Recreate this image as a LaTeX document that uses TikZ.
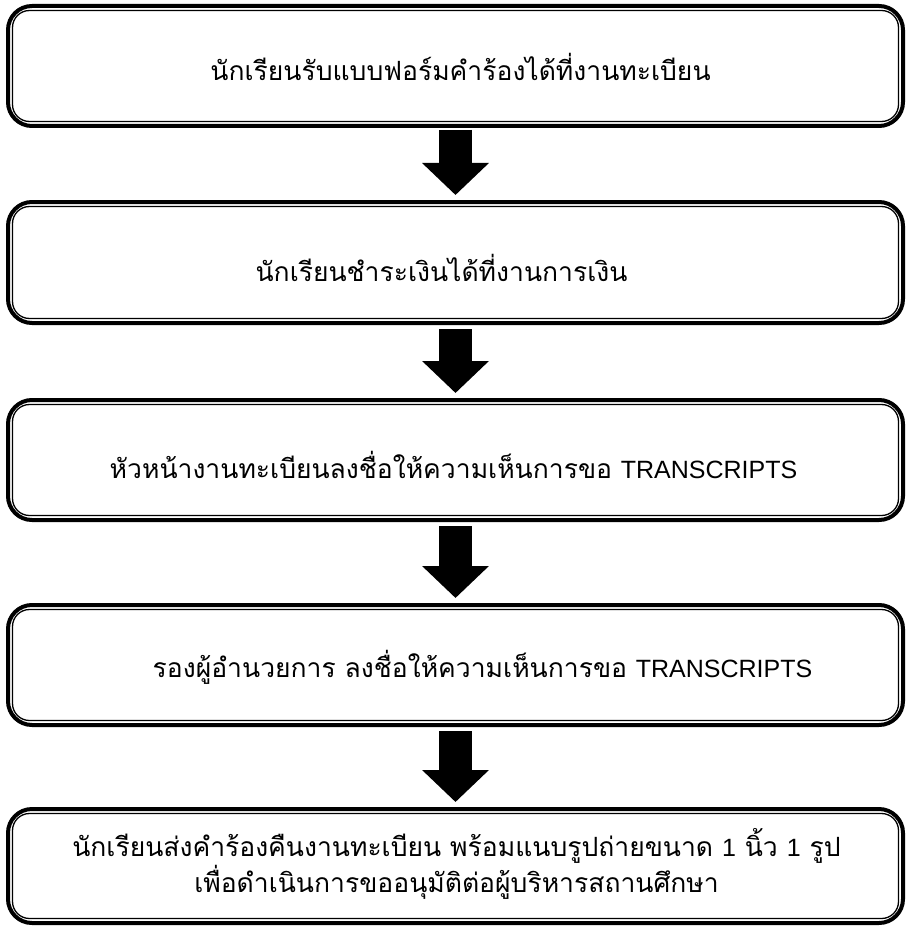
\documentclass[tikz,border=0pt]{standalone}
\usepackage{fontspec}
\newfontfamily\thaifont[Script=Thai]{Loma}
\newfontfamily\latinfont{Liberation Sans}
\usetikzlibrary{arrows.meta}
\tikzset{
  stepbox/.style={draw=black, line width=4pt, rounded corners=24pt, fill=white,
    minimum width=895pt, inner sep=0pt},
  steptext/.style={inner sep=0pt, align=center,
    font=\thaifont\fontsize{26.5}{36}\selectfont},
  innerline/.style={draw=black, line width=1.3pt, rounded corners=17pt},
  flowarrow/.style={line width=33pt, draw=black, -{Triangle[width=65pt,length=32pt]}}
}
\newcommand{\lat}[1]{{\latinfont\fontsize{25}{36}\selectfont #1}}
\begin{document}
\begin{tikzpicture}[x=1pt,y=1pt]
\useasboundingbox (0,0) rectangle (906,-928);
\node[stepbox, minimum height=120pt] (b1) at (455.5,-66) {};
\node[stepbox, minimum height=121pt] (b2) at (455.5,-262.5) {};
\node[stepbox, minimum height=120pt] (b3) at (455.5,-460) {};
\node[stepbox, minimum height=120pt] (b4) at (455.5,-665) {};
\node[stepbox, minimum height=114pt] (b5) at (455.5,-866) {};
\foreach \b in {b1,b2,b3,b4,b5}{
  \draw[innerline] ([shift={(6.5pt,-6.5pt)}]\b.north west) rectangle ([shift={(-6.5pt,6.5pt)}]\b.south east);
}
\node[steptext] (t1) at ([xshift=5pt,yshift=-1pt]b1.center) {นักเรียนรับแบบฟอร์มคำร้องได้ที่งานทะเบียน};
\node[steptext] (t2) at ([xshift=-14pt,yshift=-5pt]b2.center) {นักเรียนชำระเงินได้ที่งานการเงิน};
\node[steptext] (t3) at ([xshift=-2pt,yshift=-5pt]b3.center) {หัวหน้างานทะเบียนลงชื่อให้ความเห็นการขอ \lat{TRANSCRIPTS}};
\node[steptext] (t4) at ([xshift=27pt,yshift=-2pt]b4.center) {รองผู้อำนวยการ ลงชื่อให้ความเห็นการขอ \lat{TRANSCRIPTS}};
\node[steptext] (t5) at ([xshift=1pt,yshift=2pt]b5.center) {นักเรียนส่งคำร้องคืนงานทะเบียน พร้อมแนบรูปถ่ายขนาด \lat{1} นิ้ว \lat{1} รูป\\เพื่อดำเนินการขออนุมัติต่อผู้บริหารสถานศึกษา};
\draw[flowarrow] ([yshift=-2pt]b1.south) -- ([yshift=5pt]b2.north);
\draw[flowarrow] ([yshift=-4pt]b2.south) -- ([yshift=5pt]b3.north);
\draw[flowarrow] ([yshift=-4pt]b3.south) -- ([yshift=5pt]b4.north);
\draw[flowarrow] ([yshift=-4pt]b4.south) -- ([yshift=5pt]b5.north);
\end{tikzpicture}
\end{document}
